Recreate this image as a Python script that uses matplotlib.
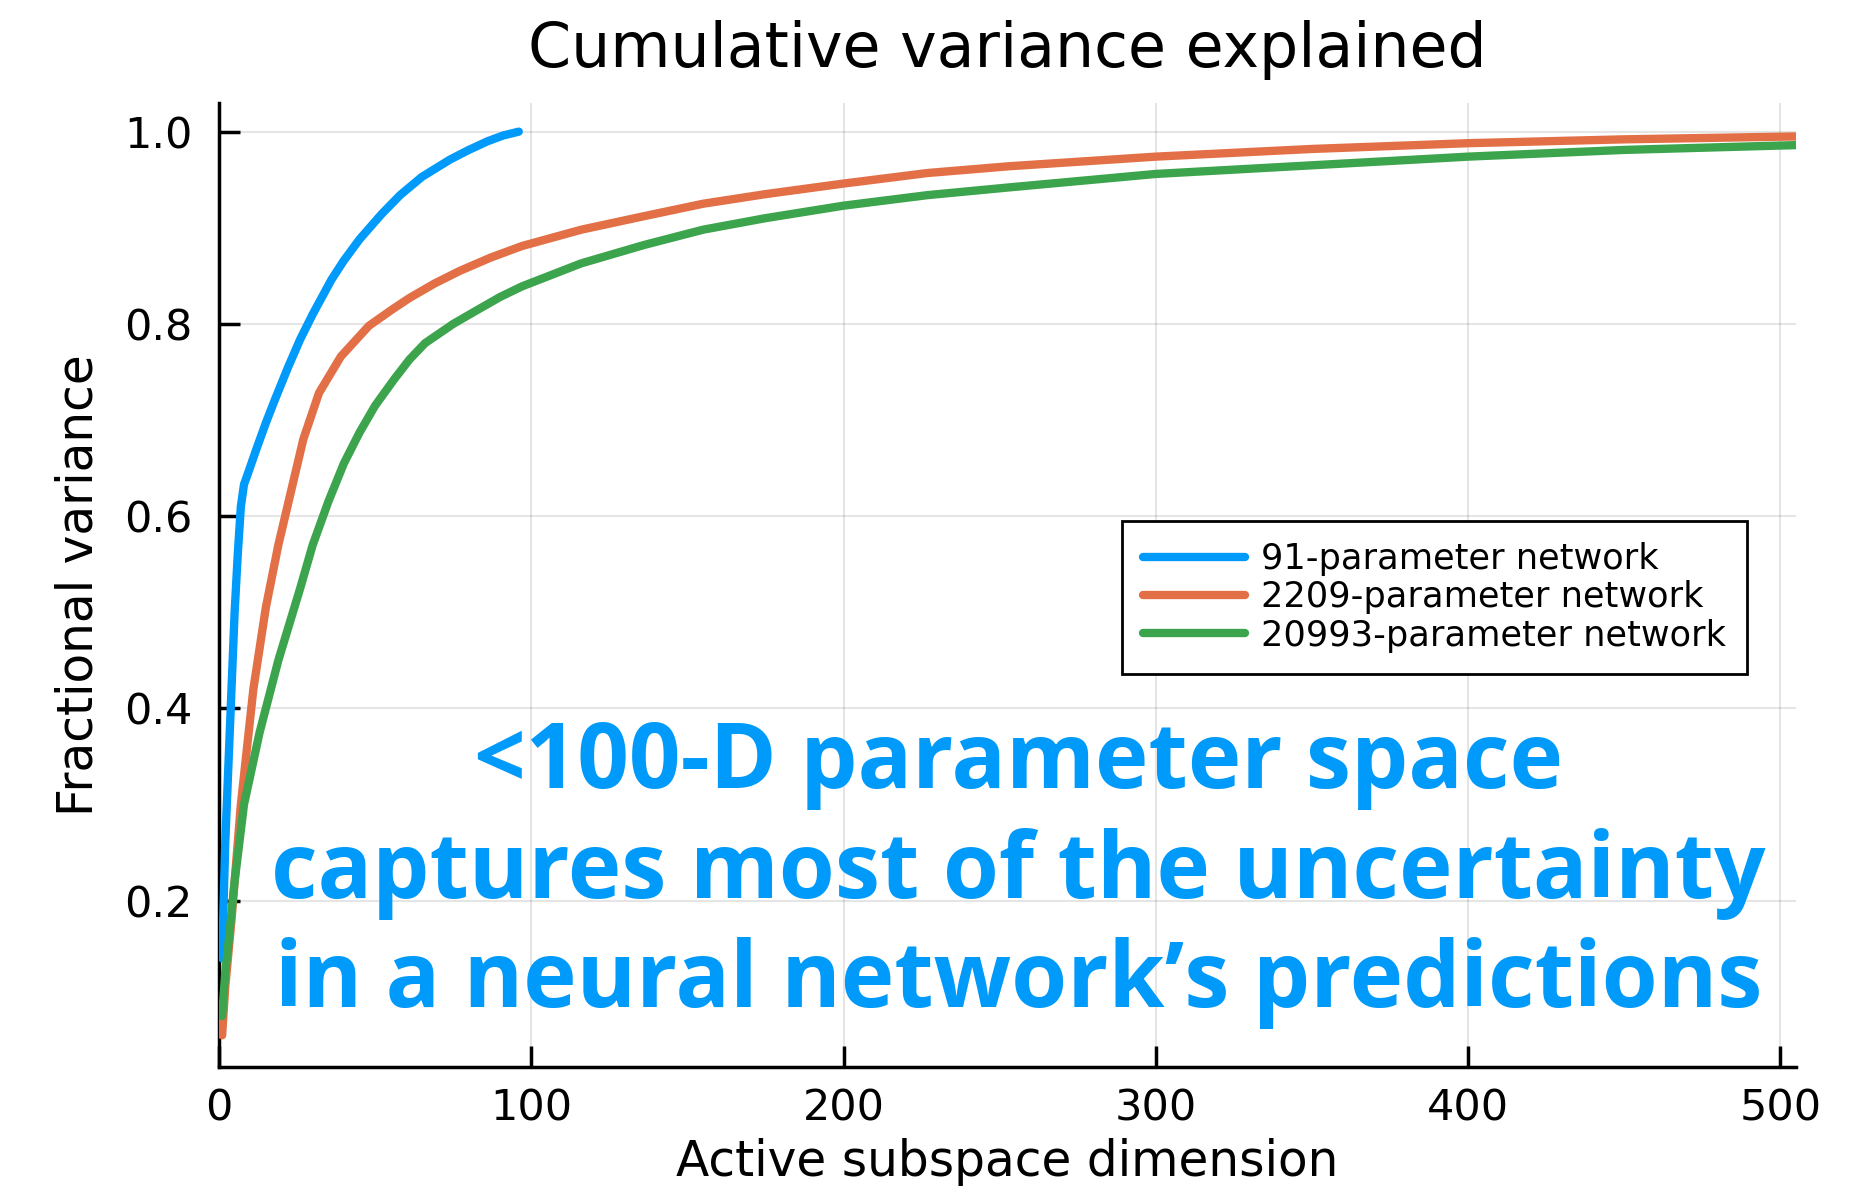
import matplotlib
matplotlib.use("Agg")
import matplotlib.pyplot as plt

# ---- data ----
labels = ["91-parameter network", "2209-parameter network", "20993-parameter network"]
colors = ["#009AFA", "#E26F46", "#3DA44E"]

x_91 = [1, 2, 3, 4, 5, 6, 7, 8, 9, 12, 15, 18, 22, 26, 30, 36, 40, 45, 52, 58, 65, 74,
        80, 86, 91, 96]
y_91 = [0.14, 0.26, 0.34, 0.42, 0.50, 0.56, 0.61, 0.633, 0.642, 0.670, 0.697, 0.722,
        0.754, 0.784, 0.810, 0.846, 0.866, 0.888, 0.914, 0.934, 0.953, 0.971,
        0.981, 0.990, 0.996, 1.0]

x_2209 = [1, 2, 4, 7, 11, 15, 19, 23, 27, 32, 39, 48, 55, 61, 69, 77, 87, 97, 116, 136,
          155, 175, 200, 227, 253, 300, 350, 400, 450, 505]
y_2209 = [0.06, 0.11, 0.18, 0.30, 0.42, 0.505, 0.57, 0.625, 0.68, 0.728, 0.766, 0.798,
          0.814, 0.827, 0.842, 0.855, 0.869, 0.881, 0.898, 0.912, 0.925, 0.935, 0.946,
          0.957, 0.964, 0.974, 0.982, 0.988, 0.992, 0.995]

x_20993 = [1, 2, 3, 5, 8, 13, 19, 26, 30, 35, 40, 45, 50, 56, 61, 66, 75, 83, 90, 97,
           116, 136, 155, 175, 200, 227, 253, 300, 350, 400, 450, 505]
y_20993 = [0.08, 0.125, 0.155, 0.22, 0.30, 0.375, 0.45, 0.525, 0.57, 0.615, 0.655, 0.687,
           0.715, 0.742, 0.763, 0.78, 0.80, 0.815, 0.828, 0.839, 0.863, 0.882, 0.898,
           0.910, 0.923, 0.934, 0.942, 0.956, 0.965, 0.974, 0.981, 0.986]

xticks = [0, 100, 200, 300, 400, 500]
yticks = [0.2, 0.4, 0.6, 0.8, 1.0]
ytick_labels = ["0.2", "0.4", "0.6", "0.8", "1.0"]

title = "Cumulative variance explained"
xlabel = "Active subspace dimension"
ylabel = "Fractional variance"
note = "<100-D parameter space\ncaptures most of the uncertainty\nin a neural network\u2019s predictions"

# ---- figure ----
plt.rcParams["font.family"] = ["DejaVu Sans"]
fig = plt.figure(figsize=(18.65, 11.94), dpi=100)
ax = fig.add_axes([219 / 1865, 1 - 1067 / 1194, (1796 - 219) / 1865, (1067 - 103) / 1194])

for xs, ys, c, lab in zip([x_91, x_2209, x_20993], [y_91, y_2209, y_20993], colors, labels):
    ax.plot(xs, ys, color=c, lw=6, label=lab, solid_capstyle="round",
            solid_joinstyle="round", zorder=3)

ax.set_xlim(0, 505)
ax.set_ylim(0.027, 1.0298)
ax.set_xticks(xticks)
ax.set_yticks(yticks)
ax.set_yticklabels(ytick_labels)

ax.grid(True, color="black", alpha=0.1, lw=1.5)
ax.set_axisbelow(True)
for s in ["top", "right"]:
    ax.spines[s].set_visible(False)
for s in ["left", "bottom"]:
    ax.spines[s].set_linewidth(2.5)
ax.tick_params(direction="in", length=15, width=2.5, labelsize=31)
ax.tick_params(axis="y", pad=19)
ax.tick_params(axis="x", pad=15)

ax.set_title(title, fontsize=44.5, pad=26)
ax.set_xlabel(xlabel, fontsize=35, labelpad=6)
ax.set_ylabel(ylabel, fontsize=35, labelpad=16)

leg = ax.legend(loc="upper left", bbox_to_anchor=((1122 - 219) / 1577, (1067 - 521) / 964),
                fontsize=25.3, frameon=True, fancybox=False, framealpha=1,
                edgecolor="black", handlelength=2.9, handletextpad=0.45,
                labelspacing=0.12, borderpad=0.6, borderaxespad=0)
leg.get_frame().set_linewidth(2)

ax.text(256, 0.228, note, color="#009AFA", fontsize=65.2, fontweight="bold",
        family=["Open Sans", "DejaVu Sans"], ha="center", va="center",
        linespacing=1.25, zorder=4)

fig.savefig("out.png", dpi=100)
